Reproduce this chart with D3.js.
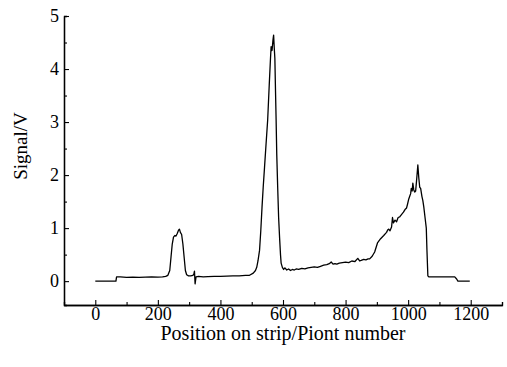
<!DOCTYPE html>
<html>
<head>
<meta charset="utf-8">
<script src="https://cdn.jsdelivr.net/npm/d3@7"></script>
<style>
  body { margin: 0; background: #fff; }
</style>
</head>
<body>
<svg id="chart" width="507" height="367"></svg>
<script>
// point numbers
var points = [0, 20, 40, 66, 68, 80, 100, 120, 140, 160, 180, 200, 215, 225, 232, 238, 242, 246, 250, 254,
    258, 262, 266, 269, 272, 276, 280, 284, 288, 292, 298, 305, 312, 315, 317, 319, 322, 330, 345, 360,
    380, 400, 420, 440, 460, 480, 493, 505, 512, 516, 520, 525, 529, 533, 537, 541, 546, 551, 556, 560,
    562, 565, 568, 570, 572, 574, 576, 578, 580, 583, 586, 589, 592, 594, 598, 602, 606, 612, 618, 624,
    630, 636, 642, 650, 660, 670, 680, 690, 700, 710, 720, 730, 740, 748, 754, 760, 766, 772, 780, 790,
    800, 810, 820, 830, 839, 845, 850, 858, 865, 872, 877, 885, 893, 902, 912, 922, 928, 931, 935, 938,
    942, 947, 950, 953, 958, 963, 968, 973, 978, 985, 990, 995, 998, 1002, 1005, 1008, 1010, 1013, 1015, 1018,
    1021, 1024, 1027, 1031, 1034, 1037, 1040, 1044, 1047, 1050, 1054, 1058, 1060, 1063, 1066, 1080, 1100, 1120, 1140, 1149,
    1155, 1159, 1180, 1197]
// signal in volts at those points
var signal = [0, 0, 0, 0, 0.08, 0.08, 0.07, 0.075, 0.07, 0.075, 0.08, 0.075, 0.08, 0.09, 0.11, 0.2, 0.45, 0.7, 0.83, 0.86,
    0.85, 0.9, 0.96, 0.98, 0.92, 0.88, 0.7, 0.45, 0.2, 0.12, 0.1, 0.1, 0.11, 0.13, 0.19, -0.05, 0.08, 0.09, 0.08, 0.085,
    0.09, 0.09, 0.095, 0.1, 0.1, 0.11, 0.11, 0.15, 0.2, 0.26, 0.38, 0.58, 0.95, 1.4, 1.8, 2.15, 2.6, 3.04, 3.7, 4.2,
    4.42, 4.35, 4.55, 4.64, 4.4, 4.2, 3.6, 3.04, 2.4, 1.77, 1.2, 0.83, 0.5, 0.34, 0.26, 0.22, 0.25, 0.21, 0.23, 0.2,
    0.22, 0.21, 0.23, 0.22, 0.24, 0.23, 0.25, 0.26, 0.27, 0.26, 0.28, 0.3, 0.31, 0.33, 0.36, 0.32, 0.33, 0.32, 0.34, 0.35,
    0.36, 0.35, 0.38, 0.37, 0.43, 0.38, 0.39, 0.41, 0.4, 0.42, 0.42, 0.47, 0.55, 0.72, 0.8, 0.86, 0.9, 0.92, 0.97, 0.98,
    0.95, 1.02, 1.2, 1.1, 1.15, 1.12, 1.2, 1.21, 1.25, 1.3, 1.35, 1.38, 1.45, 1.55, 1.6, 1.65, 1.75, 1.7, 1.85, 1.72,
    1.68, 1.7, 1.9, 2.19, 1.95, 1.77, 1.75, 1.6, 1.52, 1.4, 1.2, 1.0, 0.6, 0.1, 0.08, 0.08, 0.08, 0.08, 0.08, 0.08,
    0.04, 0, 0, 0]

var xMajor = [0, 200, 400, 600, 800, 1000, 1200]
var xMinor = [-100, 100, 300, 500, 700, 900, 1100, 1300]
var yMajor = [0, 1, 2, 3, 4, 5]
var yMinor = [0.5, 1.5, 2.5, 3.5, 4.5]

var serif = '"Liberation Serif", "DejaVu Serif", serif'

var svg = d3.select("#chart")

var x = d3.scaleLinear().domain([-100, 1300]).range([64, 502])
var y = d3.scaleLinear().domain([-0.45, 5]).range([305, 16])

// bottom axis, ticks pointing in
var gx = svg.append("g").attr("transform", "translate(0," + y(-0.45) + ")")
gx.call(d3.axisBottom(x).tickValues(xMajor).tickFormat(d3.format("d"))
    .tickSizeInner(-5).tickSizeOuter(0).tickPadding(2))
gx.append("g").call(d3.axisBottom(x).tickValues(xMinor).tickSize(-3).tickFormat(""))

// left axis, ticks pointing in
var gy = svg.append("g").attr("transform", "translate(" + x(-100) + ",0)")
gy.call(d3.axisLeft(y).tickValues(yMajor).tickFormat(d3.format("d"))
    .tickSizeInner(-5).tickSizeOuter(0).tickPadding(5))
gy.append("g").call(d3.axisLeft(y).tickValues(yMinor).tickSize(-3).tickFormat(""))

svg.selectAll(".tick text")
    .attr("font-family", serif)
    .style("font-family", serif)
    .style("font-size", "18px")
    .attr("fill", "#000")
svg.selectAll(".domain").attr("stroke", "#000").attr("stroke-width", 1.3)
svg.selectAll(".tick line").attr("stroke", "#000").attr("stroke-width", 1.1)

svg.append("text")
    .attr("x", 283)
    .attr("y", 340)
    .attr("text-anchor", "middle")
    .style("font-family", serif)
    .style("font-size", "20px")
    .text("Position on strip/Piont number")

svg.append("text")
    .attr("transform", "translate(27,146) rotate(-90)")
    .attr("text-anchor", "middle")
    .style("font-family", serif)
    .style("font-size", "19px")
    .text("Signal/V")

var line = d3.line()
    .x(function(d, i) { return x(points[i]) })
    .y(function(d) { return y(d) })

svg.append("path")
    .datum(signal)
    .attr("fill", "none")
    .attr("stroke", "#000")
    .attr("stroke-width", 1.3)
    .attr("stroke-linejoin", "round")
    .attr("d", line)
</script>
</body>
</html>
